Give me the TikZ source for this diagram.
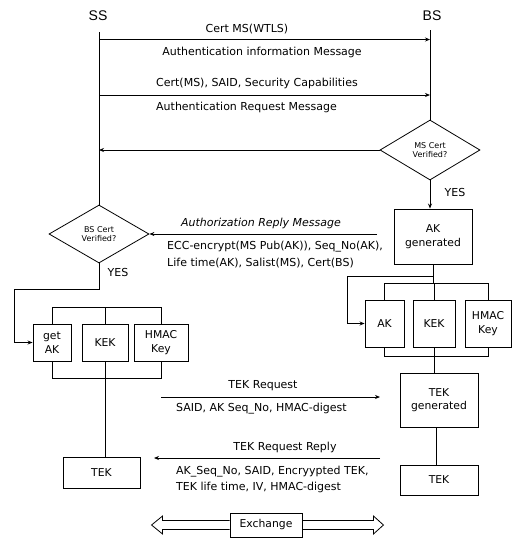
\documentclass[tikz,border=0pt]{standalone}
\usepackage{fontspec}
\setmainfont{DejaVu Sans}
\newfontfamily\hdrfont{Liberation Sans}
\usetikzlibrary{shapes.geometric,arrows.meta,calc}
\begin{document}
\begin{tikzpicture}[x=1pt,y=-1pt,
  txt/.style={font=\fontsize{11}{13}\selectfont, inner sep=0pt},
  box/.style={draw, line width=0.9pt, align=center, inner sep=0pt, font=\fontsize{10.8}{13.5}\selectfont},
  dia/.style={draw, diamond, aspect=1.7, inner sep=0pt, line width=0.8pt, align=center, font=\fontsize{8}{9.5}\selectfont},
  ln/.style={line width=0.8pt},
  arr/.style={line width=0.8pt, -{Stealth[length=5pt,width=4pt]}},
]
\useasboundingbox (0,0) rectangle (523,539);
% headers
\node[font=\hdrfont\fontsize{14}{16}\selectfont, inner sep=0pt] (ss) at (98,16) {SS};
\node[font=\hdrfont\fontsize{14}{16}\selectfont, inner sep=0pt] (bs) at (432,16) {BS};
% diamonds
\node[dia, minimum width=100pt, minimum height=60pt] (msd) at (430,150) {MS Cert\\Verified?};
\node[dia, minimum width=100pt, minimum height=58pt] (bsd) at (99,234) {BS Cert\\Verified?};
% lifelines
\coordinate (sstop) at (99,32);
\coordinate (bstop) at (430,30);
\draw[ln] (sstop) -- (bsd.north);
\draw[ln] (bstop) -- (msd.north);
% messages 1,2
\coordinate (s1) at (99,39.5); \coordinate (b1) at (430,39.5);
\coordinate (s2) at (99,95); \coordinate (b2) at (430,95);
\draw[arr] (s1) -- (b1);
\draw[arr] (s2) -- (b2);
\node[txt] (t1) at (247,29) {Cert MS(WTLS)};
\node[txt] (t2) at (262,52) {Authentication information Message};
\node[txt, anchor=west] (t3) at (156,83) {Cert(MS), SAID, Security Capabilities};
\node[txt, anchor=west] (t4) at (156,107) {Authentication Request Message};
% reject back
\coordinate (s3) at (99,150);
\draw[arr] (msd.west) -- (s3);
% AK generated
\node[box, minimum width=78pt, minimum height=55pt] (akg) at (433,236.5) {AK\\generated};
\draw[arr] (msd.south) -- (msd.south |- akg.north);
\node[txt] (yes1) at (455,192) {YES};
% authorization reply
\coordinate (ar) at (377,234);
\draw[arr] (ar) -- (bsd.east);
\node[txt, font=\fontsize{11}{13}\selectfont\itshape] (t5) at (261,223) {Authorization Reply Message};
\node[txt, anchor=west] (t6) at (167,247) {ECC-encrypt(MS Pub(AK)), Seq\_No(AK),};
\node[txt, anchor=west] (t7) at (167,263) {Life time(AK), Salist(MS), Cert(BS)};
\node[txt] (yes2) at (118,272) {YES};
% right key boxes
\node[box, minimum width=39pt, minimum height=47pt] (akR) at (384.5,323.5) {AK};
\node[box, minimum width=42pt, minimum height=47pt] (kekR) at (434,323.5) {KEK};
\node[box, minimum width=46pt, minimum height=47pt] (hmR) at (488,323.5) {HMAC\\Key};
\coordinate (rbt) at (433,283);
\coordinate (rbb) at (433,356);
\draw[ln] (akg.south) -- (rbt);
\draw[ln] (akR.north) -- (akR.north |- rbt) -- (hmR.north |- rbt) -- (hmR.north);
\draw[ln] (kekR.north) -- (kekR.north |- rbt);
\draw[ln] (akR.south) -- (akR.south |- rbb) -- (hmR.south |- rbb) -- (hmR.south);
\draw[ln] (kekR.south) -- (kekR.south |- rbb);
\coordinate (rj) at (433,276);
\draw[arr] (rj) -- (347,276) -- (347,323.5) -- (akR.west);
% TEK generated
\node[box, minimum width=78pt, minimum height=54pt] (tekg) at (439,400) {TEK\\generated};
\node[box, minimum width=78pt, minimum height=30pt] (tekR) at (439,480) {TEK};
\draw[ln] (kekR.south |- rbb) -- (kekR.south |- tekg.north);
\draw[ln] (tekg.south -| 436,0) -- (436,0 |- tekR.north);
% left key boxes
\node[box, minimum width=38pt, minimum height=37pt] (getak) at (52,342.5) {get\\AK};
\node[box, minimum width=46pt, minimum height=37pt] (kekL) at (105,342.5) {KEK};
\node[box, minimum width=54pt, minimum height=37pt] (hmL) at (161,342.5) {HMAC\\Key};
\coordinate (lbt) at (105,307);
\coordinate (lbb) at (105,378);
\draw[ln] (getak.north) -- (getak.north |- lbt) -- (hmL.north |- lbt) -- (hmL.north);
\draw[ln] (kekL.north) -- (lbt);
\draw[ln] (getak.south) -- (getak.south |- lbb) -- (hmL.south |- lbb) -- (hmL.south);
\node[box, minimum width=77pt, minimum height=31pt] (tekL) at (101.5,472.5) {TEK};
\draw[ln] (kekL.south) -- (kekL.south |- tekL.north);
\draw[arr] (bsd.south) -- (99,289) -- (14,289) -- (14,342.5) -- (getak.west);
% TEK request
\coordinate (q1) at (161,397); \coordinate (q2) at (380,397);
\draw[arr] (q1) -- (q2);
\node[txt] (t8) at (263,386) {TEK Request};
\node[txt, anchor=west] (t9) at (176,409) {SAID, AK Seq\_No, HMAC-digest};
% TEK reply
\coordinate (p1) at (380,458); \coordinate (p2) at (154,458);
\draw[arr] (p1) -- (p2);
\node[txt] (t10) at (285,447) {TEK Request Reply};
\node[txt, anchor=west] (t11) at (176,472) {AK\_Seq\_No, SAID, Encryypted TEK,};
\node[txt, anchor=west] (t12) at (176,487) {TEK life time, IV, HMAC-digest};
% exchange
\node[box, minimum width=72pt, minimum height=24pt] (ex) at (266,525) {Exchange};
\draw[ln] (ex.west) ++(0,-4.5) -- ++(-67,0) -- ++(0,-4.5) -- ++(-11,9) -- ++(11,9) -- ++(0,-4.5) -- ++(67,0);
\draw[ln] (ex.east) ++(0,-4.5) -- ++(71,0) -- ++(0,-4.5) -- ++(10,9) -- ++(-10,9) -- ++(0,-4.5) -- ++(-71,0);
\end{tikzpicture}
\end{document}
